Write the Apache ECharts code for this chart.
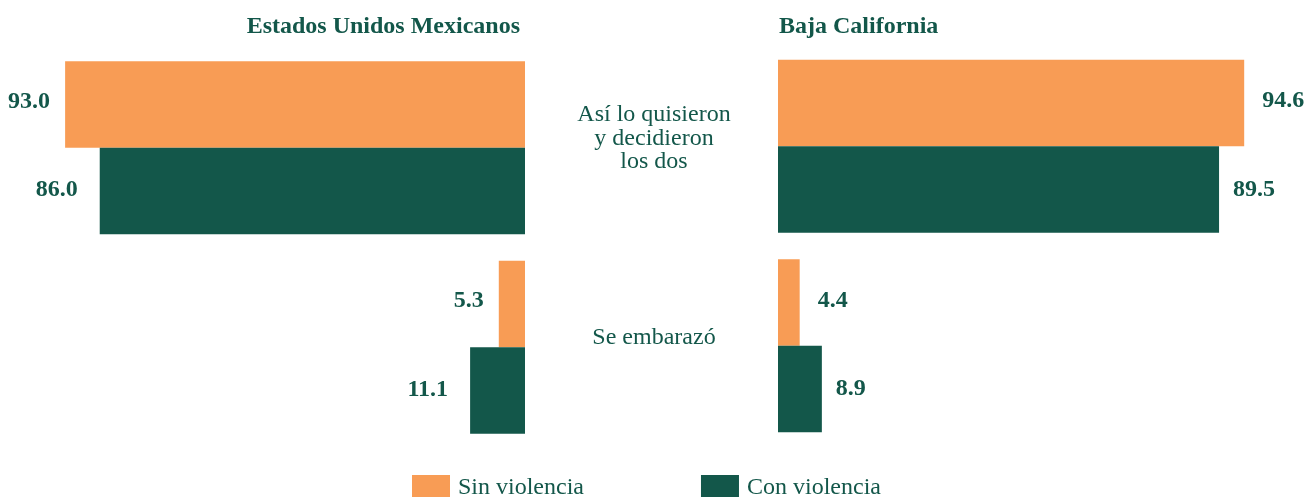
<!DOCTYPE html>
<html>
<head>
<meta charset="utf-8">
<script src="https://cdn.jsdelivr.net/npm/echarts@6/dist/echarts.min.js"></script>
<style>
html,body{margin:0;padding:0;background:#fff;}
#c{width:1307px;height:497px;}
</style>
</head>
<body>
<div id="c"></div>
<script>
const categories = ['Así lo quisieron\ny decidieron\nlos dos', 'Se embarazó'];
const seriesNames = ['Sin violencia', 'Con violencia'];
const panelTitles = ['Estados Unidos Mexicanos', 'Baja California'];
const nacionalSin = [93.0, 5.3];
const nacionalCon = [86.0, 11.1];
const bajaSin = [94.6, 4.4];
const bajaCon = [89.5, 8.9];

const ORANGE = '#F89C55';
const GREEN = '#13574A';
const FONT = '"Liberation Serif", "Times New Roman", serif';

const chart = echarts.init(document.getElementById('c'), null, {renderer: 'canvas'});

function barSeries(name, data, xi, color, pos, dist, dy) {
  return {
    name: name, type: 'bar', xAxisIndex: xi, yAxisIndex: xi,
    data: data, barWidth: 86.5, barGap: '0%',
    itemStyle: {color: color},
    label: {
      show: true, position: pos, distance: dist, offset: [0, dy],
      formatter: p => p.value.toFixed(1),
      color: GREEN, fontFamily: FONT, fontWeight: 'bold', fontSize: 24
    },
    emphasis: {disabled: true}
  };
}

const option = {
  animation: false,
  backgroundColor: '#fff',
  title: [
    {text: panelTitles[0], right: 787, top: 15, padding: 0,
     textStyle: {fontFamily: FONT, fontWeight: 'bold', fontSize: 24, color: GREEN}},
    {text: panelTitles[1], left: 779, top: 15, padding: 0,
     textStyle: {fontFamily: FONT, fontWeight: 'bold', fontSize: 24, color: GREEN}}
  ],
  legend: {
    data: seriesNames, left: 412, top: 475, itemWidth: 38, itemHeight: 26,
    itemGap: 117, padding: 0, icon: 'rect',
    textStyle: {fontFamily: FONT, fontSize: 24, color: GREEN, padding: [0, 0, 0, 3]}
  },
  grid: [
    {left: 30.5, width: 494.5, top: 48, height: 399},
    {left: 778, width: 492.8, top: 46.5, height: 399}
  ],
  xAxis: [
    {gridIndex: 0, type: 'value', min: 0, max: 100, inverse: true, show: false},
    {gridIndex: 1, type: 'value', min: 0, max: 100, show: false}
  ],
  yAxis: [
    {gridIndex: 0, type: 'category', data: categories, inverse: true, position: 'right',
     axisLine: {show: false}, axisTick: {show: false}, splitLine: {show: false},
     axisLabel: {show: true, margin: 129, align: 'center',
                 formatter: v => v.split('\n').map(s => '{a|' + s + '}').join('\n') + '\n{s| }',
                 rich: {
                   a: {fontFamily: FONT, fontSize: 24, lineHeight: 23.5, color: GREEN, align: 'center'},
                   s: {fontSize: 10, lineHeight: 19}
                 }}},
    {gridIndex: 1, type: 'category', data: categories, inverse: true,
     axisLine: {show: false}, axisTick: {show: false}, splitLine: {show: false},
     axisLabel: {show: false}}
  ],
  series: [
    barSeries(seriesNames[0], nacionalSin, 0, ORANGE, 'left', 15, -3),
    barSeries(seriesNames[1], nacionalCon, 0, GREEN, 'left', 22, -1),
    barSeries(seriesNames[0], bajaSin, 1, ORANGE, 'right', 18, -2),
    barSeries(seriesNames[1], bajaCon, 1, GREEN, 'right', 14, 0)
  ]
};
chart.setOption(option);
</script>
</body>
</html>
